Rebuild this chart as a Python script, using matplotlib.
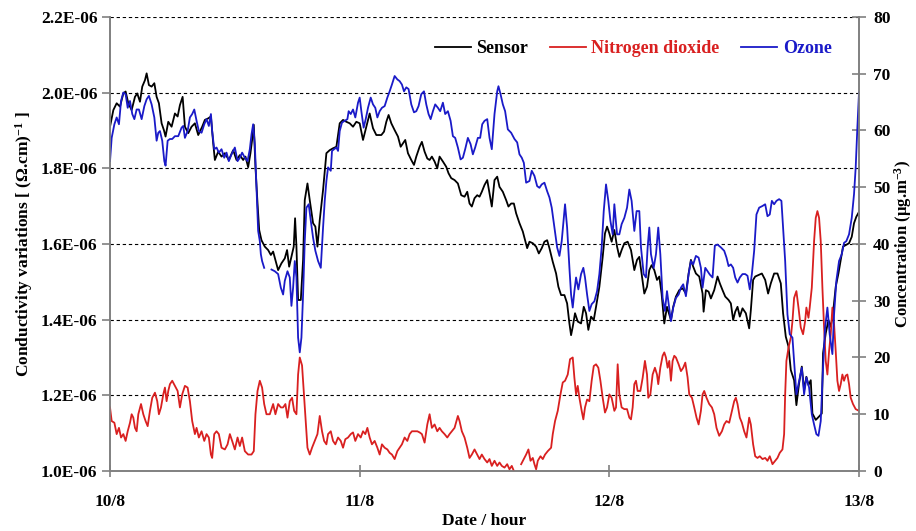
import matplotlib
matplotlib.use('Agg')
import matplotlib.pyplot as plt
import numpy as np
from matplotlib.ticker import FuncFormatter, MultipleLocator

# Fuentes tipo Times en negrita
plt.rcParams['font.family'] = ['Liberation Serif', 'DejaVu Serif']
plt.rcParams['font.weight'] = 'bold'
plt.rcParams['mathtext.fontset'] = 'custom'
plt.rcParams['mathtext.rm'] = 'Liberation Serif:bold'
plt.rcParams['mathtext.it'] = 'Liberation Serif:bold'
plt.rcParams['mathtext.bf'] = 'Liberation Serif:bold'

# Horas desde 10/8 00:00
day_ticks = [0, 24, 48, 72]
day_labels = ['10/8', '11/8', '12/8', '13/8']

# Sensor: conductividad (unidades de 1E-06)
sensor_h = [0.00, 0.32, 0.64, 0.96, 1.28, 1.50, 1.76, 2.08, 2.40, 2.62, 2.88, 3.10, 3.36, 3.52, 3.74, 4.00,
            4.26, 4.48, 4.70, 4.96, 5.18, 5.34, 5.60, 5.92, 6.24, 6.50, 6.72, 6.98, 7.20, 7.52, 7.84, 8.16,
            8.48, 8.86, 9.12, 9.44, 9.70, 9.92, 10.08, 10.40, 10.72, 11.04, 11.42, 11.84, 12.16, 12.48, 12.80,
            13.02, 13.28, 13.50, 13.66, 13.82, 13.98, 14.18, 14.34, 14.56, 14.88, 15.20, 15.46, 15.68, 15.90,
            16.16, 16.48, 16.80, 17.02, 17.22, 17.44, 17.66, 17.79, 17.92, 18.08, 18.34, 18.56, 18.72, 18.98,
            19.20, 19.52, 19.74, 19.94, 20.16, 20.48, 20.80, 21.12, 21.44, 21.76, 22.08, 22.40, 22.72, 23.04,
            23.36, 23.68, 24.00, 24.32, 24.64, 24.96, 25.28, 25.60, 26.08, 26.34, 26.56, 26.78, 27.04, 27.36,
            27.68, 27.94, 28.16, 28.38, 28.64, 28.96, 29.22, 29.44, 29.76, 29.98, 30.24, 30.50, 30.72, 30.94,
            31.20, 31.46, 31.68, 32.00, 32.32, 32.54, 32.80, 33.12, 33.44, 33.76, 34.08, 34.34, 34.56, 34.78,
            35.04, 35.30, 35.52, 35.74, 36.00, 36.26, 36.48, 36.70, 36.96, 37.22, 37.44, 37.76, 38.08, 38.30,
            38.56, 38.82, 39.04, 39.36, 39.68, 39.90, 40.10, 40.32, 40.64, 40.96, 41.22, 41.50, 41.76, 42.02,
            42.24, 42.56, 42.88, 43.10, 43.36, 43.68, 43.94, 44.16, 44.32, 44.48, 44.70, 44.96, 45.28, 45.54,
            45.76, 45.98, 46.24, 46.50, 46.72, 47.04, 47.36, 47.58, 47.78, 48.00, 48.22, 48.48, 48.74, 48.96,
            49.18, 49.44, 49.76, 50.08, 50.40, 50.66, 50.88, 51.10, 51.36, 51.62, 51.84, 52.06, 52.32, 52.58,
            52.80, 53.02, 53.28, 53.54, 53.92, 54.14, 54.40, 54.72, 55.04, 55.36, 55.62, 55.84, 56.06, 56.32,
            56.64, 56.96, 57.06, 57.28, 57.54, 57.76, 58.08, 58.40, 58.62, 58.88, 59.14, 59.46, 59.68, 59.90,
            60.10, 60.32, 60.54, 60.80, 61.12, 61.44, 61.60, 61.82, 62.02, 62.34, 62.66, 62.98, 63.26, 63.52,
            63.84, 64.16, 64.48, 64.70, 64.96, 65.22, 65.44, 65.76, 65.98, 66.24, 66.50, 66.72, 66.94, 67.14,
            67.36, 67.52, 67.84, 68.16, 68.42, 68.54, 68.80, 69.06, 69.28, 69.50, 69.76, 70.02, 70.24, 70.46,
            70.72, 71.04, 71.30, 71.52, 71.74, 72.00]
sensor_e6 = [1.910, 1.954, 1.972, 1.963, 1.998, 2.003, 1.972, 1.954, 1.989, 1.998, 1.976, 2.016, 2.033, 2.051, 2.020, 2.016,
             2.025, 1.989, 1.972, 1.919, 1.901, 1.884, 1.923, 1.910, 1.945, 1.937, 1.967, 1.989, 1.910, 1.893, 1.910, 1.919,
             1.888, 1.910, 1.928, 1.932, 1.937, 1.866, 1.822, 1.844, 1.831, 1.840, 1.822, 1.848, 1.822, 1.835, 1.822,
             1.831, 1.803, 1.840, 1.875, 1.915, 1.804, 1.707, 1.637, 1.610, 1.593, 1.584, 1.571, 1.580, 1.558,
             1.531, 1.549, 1.562, 1.584, 1.540, 1.566, 1.593, 1.668, 1.593, 1.452, 1.452, 1.558, 1.716, 1.760,
             1.716, 1.655, 1.646, 1.593, 1.663, 1.743, 1.840, 1.848, 1.853, 1.857, 1.919, 1.928, 1.923, 1.919,
             1.910, 1.923, 1.919, 1.875, 1.910, 1.945, 1.906, 1.888, 1.888, 1.897, 1.923, 1.941, 1.919, 1.901,
             1.884, 1.857, 1.866, 1.875, 1.840, 1.822, 1.809, 1.831, 1.857, 1.870, 1.844, 1.826, 1.822, 1.831,
             1.818, 1.800, 1.831, 1.818, 1.804, 1.787, 1.774, 1.769, 1.760, 1.729, 1.725, 1.738, 1.707, 1.699,
             1.721, 1.729, 1.725, 1.738, 1.756, 1.769, 1.734, 1.699, 1.769, 1.778, 1.751, 1.738, 1.716, 1.699,
             1.707, 1.707, 1.681, 1.655, 1.633, 1.610, 1.589, 1.606, 1.602, 1.593, 1.575, 1.589, 1.606, 1.610,
             1.589, 1.553, 1.522, 1.487, 1.465, 1.465, 1.443, 1.390, 1.359, 1.381, 1.417, 1.395, 1.390, 1.434,
             1.417, 1.373, 1.408, 1.399, 1.434, 1.487, 1.566, 1.628, 1.646, 1.628, 1.606, 1.637, 1.593, 1.566,
             1.584, 1.602, 1.606, 1.584, 1.531, 1.558, 1.566, 1.522, 1.469, 1.487, 1.531, 1.544, 1.531, 1.505,
             1.514, 1.469, 1.390, 1.434, 1.399, 1.434, 1.461, 1.478, 1.483, 1.469, 1.522, 1.558, 1.540, 1.522,
             1.514, 1.469, 1.421, 1.478, 1.474, 1.456, 1.478, 1.514, 1.496, 1.478, 1.461, 1.452, 1.443, 1.399,
             1.421, 1.434, 1.408, 1.430, 1.417, 1.377, 1.425, 1.505, 1.514, 1.518, 1.522, 1.505, 1.469, 1.496,
             1.522, 1.522, 1.496, 1.417, 1.355, 1.329, 1.267, 1.240, 1.174, 1.232, 1.276, 1.214, 1.249, 1.227,
             1.240, 1.152, 1.135, 1.144, 1.152, 1.311, 1.364, 1.399, 1.381, 1.417, 1.487, 1.522, 1.558, 1.593,
             1.597, 1.602, 1.619, 1.655, 1.672, 1.685]

# Ozono (µg/m3)
ozone_h = [0.00, 0.16, 0.42, 0.64, 0.86, 1.06, 1.28, 1.50, 1.70, 1.92, 2.14, 2.34, 2.56, 2.78, 3.04, 3.30,
           3.52, 3.74, 4.00, 4.26, 4.48, 4.64, 4.80, 5.02, 5.22, 5.34, 5.54, 5.76, 5.98, 6.24, 6.56, 6.88,
           7.04, 7.20, 7.46, 7.68, 7.90, 8.10, 8.32, 8.54, 8.80, 9.06, 9.28, 9.50, 9.70, 9.82, 10.02, 10.24,
           10.46, 10.72, 10.98, 11.20, 11.42, 11.68, 12.00, 12.26, 12.48, 12.70, 12.96, 13.22, 13.44, 13.60,
           13.76, 13.92, 14.08, 14.24, 14.40, 14.50, 14.62, 14.82, 15.20, 15.52, 15.84, 16.16, 16.42, 16.64,
           16.80, 17.06, 17.28, 17.44, 17.60, 17.76, 17.92, 18.08, 18.24, 18.40, 18.56, 18.72, 18.88, 19.10,
           19.30, 19.52, 19.74, 20.00, 20.26, 20.48, 20.64, 20.80, 20.96, 21.22, 21.34, 21.54, 21.76, 21.92,
           22.08, 22.30, 22.56, 22.82, 22.94, 23.14, 23.36, 23.58, 23.84, 24.00, 24.16, 24.38, 24.58, 24.80,
           25.06, 25.28, 25.50, 25.70, 25.92, 26.14, 26.40, 26.66, 26.88, 27.10, 27.36, 27.62, 27.84, 28.06,
           28.26, 28.48, 28.70, 28.96, 29.22, 29.44, 29.66, 29.92, 30.18, 30.40, 30.62, 30.82, 31.04, 31.26,
           31.52, 31.74, 32.00, 32.22, 32.48, 32.74, 32.96, 33.18, 33.44, 33.70, 33.92, 34.14, 34.40, 34.66,
           34.88, 35.10, 35.36, 35.58, 35.78, 36.00, 36.26, 36.48, 36.70, 36.96, 37.22, 37.34, 37.54, 37.76,
           37.98, 38.24, 38.56, 38.88, 39.14, 39.36, 39.58, 39.78, 40.00, 40.32, 40.54, 40.80, 41.06, 41.28,
           41.50, 41.76, 42.02, 42.24, 42.46, 42.72, 42.98, 43.20, 43.42, 43.62, 43.74, 43.94, 44.16, 44.32,
           44.48, 44.64, 44.80, 45.02, 45.28, 45.50, 45.66, 45.86, 46.08, 46.30, 46.56, 46.82, 47.04, 47.26,
           47.46, 47.68, 47.90, 48.10, 48.32, 48.48, 48.74, 48.96, 49.18, 49.44, 49.70, 49.92, 50.14, 50.40,
           50.62, 50.88, 51.04, 51.30, 51.52, 51.68, 51.84, 52.00, 52.26, 52.48, 52.70, 52.90, 53.12, 53.34,
           53.54, 53.92, 54.14, 54.40, 54.66, 54.88, 55.10, 55.36, 55.62, 55.84, 56.06, 56.32, 56.58, 56.80,
           56.96, 57.22, 57.44, 57.66, 57.92, 58.14, 58.40, 58.72, 59.04, 59.26, 59.46, 59.68, 59.90, 60.10,
           60.32, 60.54, 60.80, 61.06, 61.28, 61.50, 61.70, 61.92, 62.14, 62.40, 62.72, 62.98, 63.20, 63.42,
           63.62, 63.84, 64.06, 64.32, 64.54, 64.70, 64.90, 65.12, 65.34, 65.60, 65.76, 65.98, 66.24, 66.50,
           66.72, 66.94, 67.20, 67.46, 67.68, 67.90, 68.10, 68.32, 68.54, 68.74, 68.96, 69.18, 69.44, 69.60,
           69.82, 70.08, 70.34, 70.56, 70.78, 71.04, 71.30, 71.52, 71.68, 71.84, 72.00]
ozone = [54.6, 58.7, 61.1, 62.3, 61.1, 65.2, 66.7, 66.4, 64.0, 65.2, 62.9, 62.0, 63.7, 63.7, 62.0, 64.3,
         65.5, 66.1, 64.6, 62.3, 58.2, 59.6, 59.9, 58.2, 54.6, 53.8, 58.2, 58.5, 58.5, 59.0, 59.0, 60.5,
         60.8, 58.7, 59.9, 62.3, 62.9, 63.7, 61.7, 59.9, 59.6, 61.1, 62.0, 60.8, 62.9, 59.9, 56.7, 57.0,
         56.1, 56.7, 55.2, 56.1, 54.6, 55.8, 57.0, 54.6, 55.2, 56.1, 55.2, 54.6, 56.7, 59.3,
         61.1, 57.6, 49.9, 42.3, 40.5, 38.2, 37.0, 35.8, np.nan, 35.5, 35.2, 34.7, 32.3, 31.1,
         33.5, 35.2, 34.1, 29.1, 32.3, 37.0, 34.1, 23.5, 20.9, 23.5, 31.1, 40.5, 46.4, 47.0,
         44.1, 41.1, 38.8, 37.0, 35.8, 42.9, 47.6, 51.1, 53.5, 52.9, 56.4, 56.7, 57.0, 56.4,
         59.9, 61.4, 61.7, 62.0, 63.4, 62.9, 63.7, 62.3, 64.9, 65.8, 63.4, 60.5, 62.0, 64.0,
         65.8, 64.6, 64.0, 62.3, 63.4, 64.0, 64.3, 65.8, 66.9, 68.1, 69.6, 69.0, 68.7, 68.1,
         66.9, 67.6, 67.3, 64.6, 63.2, 63.4, 64.3, 66.4, 66.9, 64.6, 62.9, 62.0, 63.4, 64.6,
         64.0, 63.4, 64.9, 62.9, 63.4, 61.7, 59.0, 58.7, 57.0, 54.9, 55.2, 56.7, 58.7, 57.6,
         55.8, 57.0, 58.7, 58.7, 61.1, 61.7, 62.0, 58.7, 56.7, 62.9, 66.9, 67.8, 66.4, 64.6,
         63.4, 60.2, 59.6, 58.5, 57.9, 55.8, 55.2, 54.3, 50.8, 51.1, 52.9, 52.0, 50.2, 49.9,
         50.5, 50.8, 49.3, 48.2, 46.4, 42.9, 39.4, 37.9, 40.5, 44.6, 47.0, 42.9, 35.8, 31.1,
         28.8, 31.7, 34.1, 32.0, 34.7, 35.8, 34.1, 31.1, 28.2, 29.4, 29.9, 31.7, 34.7, 39.4,
         45.8, 50.5, 47.6, 44.1, 41.7, 47.0, 41.7, 41.7, 43.5, 44.6, 46.4, 49.6, 47.6, 42.3,
         45.8, 45.8, 39.4, 34.7, 34.1, 39.4, 42.9, 38.2, 35.8, 38.2, 42.9, 38.2, 30.5, 28.2,
         31.7, 26.4, 28.8, 30.5, 31.1, 32.3, 32.9, 30.8, 34.7, 37.0, 36.4, 37.9, 37.6, 35.8,
         32.3, 35.8, 35.2, 34.6, 34.1, 39.7, 39.9, 39.4, 38.8, 37.6, 36.1, 36.4, 35.8, 34.1,
         33.2, 34.1, 34.7, 34.7, 34.4, 32.0, 34.7, 38.8, 45.2, 46.4, 46.7, 47.0, 44.9, 45.2,
         47.6, 47.0, 47.6, 47.9, 47.6, 42.9, 37.0, 27.6, 24.1, 23.5, 19.4, 13.5, 15.9, 18.2,
         13.5, 16.5, 14.7, 10.0, 8.2, 6.5, 6.2, 8.8, 18.2, 25.3, 28.8, 24.1, 20.6, 27.6,
         33.5, 37.0, 38.2, 40.2, 40.5, 41.7, 44.6, 48.8, 53.5, 60.5, 66.7]

# Dioxido de nitrogeno (µg/m3)
no2_h = [0.00, 0.16, 0.42, 0.64, 0.86, 1.06, 1.28, 1.50, 1.70, 1.92, 2.08, 2.24, 2.40, 2.56, 2.72, 2.98,
         3.20, 3.42, 3.62, 3.84, 4.06, 4.32, 4.54, 4.70, 4.90, 5.12, 5.28, 5.44, 5.60, 5.76, 5.98, 6.24,
         6.50, 6.72, 6.94, 7.20, 7.46, 7.68, 7.90, 8.16, 8.32, 8.54, 8.80, 9.06, 9.28, 9.50, 9.70, 9.82,
         10.02, 10.24, 10.46, 10.72, 11.04, 11.30, 11.52, 11.74, 12.00, 12.26, 12.48, 12.70, 12.96, 13.28,
         13.60, 13.82, 13.98, 14.18, 14.40, 14.62, 14.82, 15.04, 15.36, 15.68, 15.90, 16.16, 16.42, 16.64,
         16.86, 17.06, 17.28, 17.50, 17.70, 17.92, 18.08, 18.24, 18.46, 18.72, 18.98, 19.20, 19.42, 19.68,
         19.94, 20.16, 20.38, 20.58, 20.80, 20.96, 21.22, 21.44, 21.66, 21.92, 22.18, 22.40, 22.62, 22.88,
         23.14, 23.36, 23.58, 23.84, 24.10, 24.32, 24.54, 24.74, 24.96, 25.18, 25.44, 25.70, 25.92, 26.14,
         26.40, 26.66, 26.88, 27.10, 27.36, 27.62, 27.84, 28.06, 28.32, 28.58, 28.80, 29.02, 29.28, 29.54,
         29.76, 29.98, 30.24, 30.50, 30.72, 30.94, 31.20, 31.46, 31.68, 31.90, 32.16, 32.42, 32.64, 32.86,
         33.12, 33.44, 33.60, 33.82, 34.08, 34.34, 34.56, 34.78, 35.04, 35.30, 35.52, 35.74, 36.00, 36.26,
         36.48, 36.70, 36.96, 37.22, 37.44, 37.66, 37.92, 38.18, 38.40, 38.62, 38.82, 39.20, 39.52, 39.78,
         40.00, 40.22, 40.42, 40.64, 40.80, 40.96, 41.12, 41.38, 41.60, 41.82, 42.08, 42.40, 42.56, 42.78,
         43.04, 43.30, 43.52, 43.74, 44.00, 44.22, 44.48, 44.64, 44.80, 44.96, 45.12, 45.34, 45.50, 45.66,
         45.86, 46.08, 46.30, 46.50, 46.72, 46.94, 47.14, 47.36, 47.58, 47.78, 48.00, 48.22, 48.48, 48.64,
         48.80, 48.96, 49.18, 49.44, 49.70, 49.92, 50.08, 50.24, 50.40, 50.56, 50.72, 50.98, 51.20, 51.42,
         51.62, 51.74, 51.94, 52.16, 52.38, 52.58, 52.70, 52.90, 53.12, 53.28, 53.44, 53.60, 53.76, 53.92,
         54.08, 54.24, 54.40, 54.66, 54.88, 55.10, 55.30, 55.52, 55.68, 55.94, 56.16, 56.38, 56.58, 56.80,
         56.96, 57.12, 57.34, 57.60, 57.86, 58.08, 58.30, 58.56, 58.82, 59.04, 59.26, 59.52, 59.78, 60.00,
         60.16, 60.32, 60.54, 60.74, 60.96, 61.18, 61.44, 61.60, 61.82, 62.02, 62.24, 62.46, 62.72, 62.98,
         63.20, 63.42, 63.68, 63.94, 64.16, 64.38, 64.64, 64.80, 64.90, 65.02, 65.22, 65.44, 65.60, 65.76,
         65.98, 66.18, 66.40, 66.62, 66.82, 66.94, 67.14, 67.26, 67.46, 67.68, 67.84, 68.00, 68.16, 68.32,
         68.48, 68.64, 68.80, 68.96, 69.12, 69.28, 69.44, 69.60, 69.76, 69.92, 70.08, 70.24, 70.40, 70.56,
         70.72, 70.88, 71.04, 71.20, 71.42, 71.68, 72.00]
no2 = [11.2, 8.8, 8.5, 6.5, 7.6, 5.9, 6.5, 5.3, 7.0, 8.5, 10.0, 9.4, 7.6, 7.0, 10.0, 11.8,
       10.0, 8.8, 7.9, 10.6, 12.9, 13.8, 12.3, 10.0, 11.2, 13.5, 14.7, 12.3, 14.1, 15.3, 15.9, 15.0,
       14.1, 11.2, 13.5, 15.0, 14.7, 12.3, 8.8, 6.5, 7.6, 5.9, 7.0, 5.3, 6.5, 5.9, 2.9, 2.3,
       6.5, 7.0, 6.5, 4.1, 3.8, 4.7, 6.5, 5.3, 3.8, 5.9, 4.4, 5.9, 3.5, 2.9,
       2.9, 3.5, 10.0, 14.1, 15.9, 14.7, 11.8, 10.0, 10.0, 11.8, 10.0, 11.8, 11.2, 11.2,
       11.8, 9.4, 12.3, 12.9, 10.6, 10.0, 17.0, 20.0, 18.6, 11.2, 4.1, 2.9, 4.1, 5.3,
       6.5, 9.7, 7.0, 5.3, 4.7, 6.5, 7.0, 5.3, 4.7, 5.9, 5.3, 4.1, 5.6, 5.9,
       6.5, 6.8, 5.3, 6.5, 5.9, 7.0, 6.5, 7.6, 5.9, 4.7, 5.3, 4.1, 2.9, 4.7,
       4.1, 3.8, 3.2, 2.9, 2.1, 3.5, 4.1, 4.7, 5.9, 5.3, 6.5, 7.0, 7.0, 7.0,
       6.8, 6.5, 5.0, 8.2, 10.0, 7.6, 8.2, 7.0, 7.6, 7.0, 6.5, 5.9, 6.5, 7.0,
       7.6, 9.7, 8.8, 7.0, 5.9, 4.1, 2.3, 2.9, 3.8, 2.9, 2.1, 2.9, 2.1, 1.5,
       2.1, 0.9, 1.8, 0.9, 1.5, 0.9, 0.6, 1.2, 0.3, 0.9, 0.0, np.nan, 1.2, 2.1,
       2.9, 3.8, 1.8, 2.3, 1.2, 0.3, 1.8, 2.6, 2.1, 2.9, 3.5, 4.1, 6.5, 8.8,
       10.6, 13.5, 15.6, 15.9, 17.0, 19.7, 20.0, 16.4, 13.5, 15.0, 12.9, 10.6, 9.1, 11.2,
       12.6, 12.3, 15.9, 18.5, 18.8, 18.2, 15.9, 12.9, 10.3, 11.2, 13.5, 12.9, 10.6, 11.2,
       18.8, 13.5, 11.2, 10.9, 10.9, 9.4, 9.1, 11.2, 15.3, 15.9, 14.1, 14.1, 16.4, 19.4,
       17.0, 12.9, 13.5, 17.0, 18.2, 17.0, 15.3, 18.2, 20.3, 20.9, 20.0, 18.2, 19.4, 15.9,
       19.4, 20.3, 20.0, 18.8, 17.6, 18.2, 19.1, 16.5, 13.5, 12.9, 11.2, 9.4, 8.2, 10.6,
       13.5, 14.1, 12.9, 11.8, 11.2, 10.0, 7.6, 6.2, 7.0, 8.2, 8.8, 8.5, 10.6, 12.3,
       12.9, 11.8, 9.4, 8.5, 7.0, 5.9, 9.4, 8.2, 4.7, 2.6, 2.3, 2.6, 2.1, 2.3,
       1.8, 2.6, 1.2, 1.8, 2.3, 3.2, 3.8, 6.5, 13.5, 19.4, 21.7, 23.5, 26.4, 30.5,
       31.7, 28.8, 25.3, 24.1, 26.4, 28.8, 27.0, 28.8, 32.3, 40.5, 44.6, 45.8, 44.6, 40.5,
       32.3, 25.3, 19.4, 17.0, 21.1, 24.1, 28.8, 25.9, 21.1, 15.9, 14.1, 15.3, 17.0, 15.9,
       16.8, 17.0, 15.3, 12.9, 11.8, 10.9, 10.6]

fig = plt.figure(figsize=(9.16, 5.31), dpi=100)
ax = fig.add_axes([0.1201, 0.1130, 0.8177, 0.8550])
ax2 = ax.twinx()

ln1, = ax.plot(sensor_h, np.array(sensor_e6) * 1e-6, color='black', lw=1.3, label='Sensor')
ln2, = ax2.plot(no2_h, no2, color='#d92020', lw=1.3, label='Nitrogen dioxide')
ln3, = ax2.plot(ozone_h, ozone, color='#1a1ac8', lw=1.3, label='Ozone')

ax.set_xlim(0, 72)
ax.set_ylim(1.0e-6, 2.2e-6)
ax2.set_ylim(0, 80)

ax.set_xticks(day_ticks)
ax.set_xticklabels(day_labels)
ax.set_yticks(np.arange(1.0e-6, 2.21e-6, 0.2e-6))
ax.yaxis.set_major_formatter(FuncFormatter(lambda v, p: f'{v:.1E}'))
ax2.yaxis.set_major_locator(MultipleLocator(10))

# Rejilla punteada en las marcas del eje izquierdo
ax.yaxis.grid(True, color='black', linestyle=(0, (3, 2.5)), linewidth=0.8)
ax.set_axisbelow(True)

for a in (ax, ax2):
    a.spines['top'].set_visible(False)
    for s in ('left', 'right', 'bottom'):
        a.spines[s].set_color('#808080')
        a.spines[s].set_linewidth(1.2)

ax.tick_params(axis='y', direction='out', length=6, width=1.2, color='#808080', labelsize=12.5, pad=3)
ax.tick_params(axis='x', direction='inout', length=9, width=1.2, color='#808080', labelsize=12.5, pad=12)
ax2.tick_params(axis='y', direction='inout', length=10, width=1.2, color='#808080', labelsize=12.5, pad=5)

ax.set_xlabel('Date / hour', fontsize=12.5, fontweight='bold', labelpad=2)
ax.set_ylabel('Conductivity variations [ (\u03a9.cm)$^{-1}$ ]', fontsize=12.5, fontweight='bold', labelpad=4)
ax2.set_ylabel('Concentration (\u00b5g.m$^{-3}$)', fontsize=12, fontweight='bold', labelpad=1)

leg = ax.legend(handles=[ln1, ln2, ln3], loc='upper right', bbox_to_anchor=(0.985, 0.985), ncol=3,
                frameon=False, fontsize=13, handlelength=2.0, handletextpad=0.3, columnspacing=1.2,
                labelcolor='linecolor')

fig.savefig('out.png', dpi=100)
